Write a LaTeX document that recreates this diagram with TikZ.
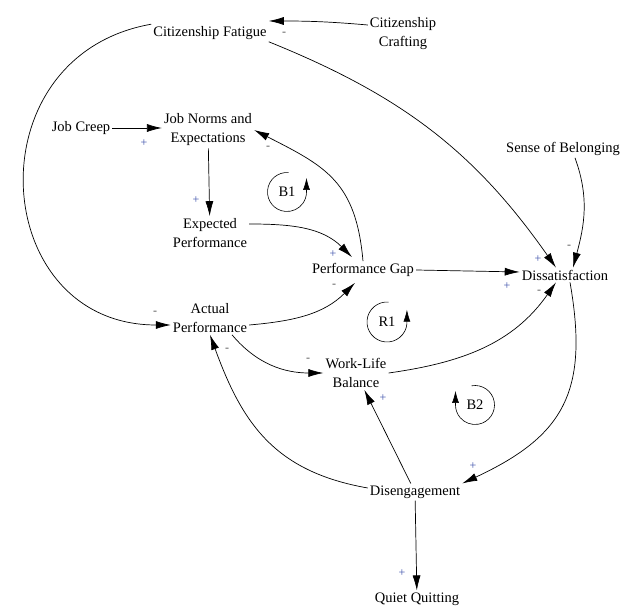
\documentclass[tikz,border=0pt]{standalone}
\usepackage{fontspec}
\setmainfont{Liberation Serif}
\usetikzlibrary{arrows.meta, positioning}
\definecolor{plusblue}{RGB}{60,80,170}
\definecolor{minusgray}{RGB}{90,90,90}

\begin{document}
\begin{tikzpicture}[x=1pt, y=1pt,
	every node/.style={font=\fontsize{14.5}{19}\selectfont},
	var/.style={align=center, inner sep=2pt},
	arr/.style={-{Latex[length=15pt, width=8pt]}, line width=0.7pt},
	loopsym/.style={-{Latex[length=12pt, width=7pt]}, line width=0.6pt},
	psign/.style={text=plusblue, font=\fontsize{12}{12}\selectfont, inner sep=0pt},
	nsign/.style={text=minusgray, font=\fontsize{12}{12}\selectfont, inner sep=0pt}
	]

\useasboundingbox (0,0) rectangle (622,608);

\node[var] (fatigue) at (210,575) {Citizenship Fatigue};
\node[var] (crafting) at (403,574) {Citizenship\\Crafting};
\node[var] (creep) at (81,480) {Job Creep};
\node[var] (norms) at (208,478) {Job Norms and\\Expectations};
\node[var] (expected) at (210,375) {Expected\\Performance};
\node[var] (gap) at (363,338) {Performance Gap};
\node[var] (belonging) at (563,459) {Sense of Belonging};
\node[var] (dissat) at (565,333) {Dissatisfaction};
\node[var] (actual) at (210,290) {Actual\\Performance};
\node[var] (wlb) at (356,235) {Work-Life\\Balance};
\node[var] (diseng) at (415,116) {Disengagement};
\node[var] (quiet) at (417,9) {Quiet Quitting};

\path[arr]
([yshift=9pt]crafting.west) edge[out=175, in=0] ([yshift=12pt]fatigue.east)
(fatigue.north west) edge[out=190, in=180, looseness=1.55] ([yshift=-7pt]actual.west)
(fatigue.south east) edge[out=-22, in=125] ([xshift=-9pt]dissat.north)
(creep.east) edge (creep.east -| norms.west)
(norms) edge (expected)
(gap.north) edge[out=95, in=-27, looseness=1.2] (norms.east)
([yshift=9pt]expected.east) edge[out=0, in=135] ([xshift=-11pt, yshift=4pt]gap.north)
([yshift=-7pt]actual.east) edge[out=5, in=-135] ([xshift=-8pt, yshift=-4pt]gap.south)
(gap.east) edge ([yshift=3pt]dissat.west)
([xshift=12pt]belonging.south) edge[out=-70, in=75] ([xshift=8pt]dissat.north)
([xshift=5pt]dissat.south) edge[out=-80, in=25, looseness=1.25] (diseng.north east)
(wlb.east) edge[out=8, in=-125] ([xshift=-9pt]dissat.south)
([xshift=22pt]actual.south) edge[out=-50, in=180] (wlb.west)
(diseng) edge (wlb)
([yshift=4pt]diseng.west) edge[out=170, in=-70, looseness=1.1] (actual.south)
(diseng) edge (quiet);

% loop markers
\node (b1) at (287,416) {B1};
\node (r1) at (387,286) {R1};
\node (b2) at (475,203) {B2};
\draw[loopsym] ([shift={(85:19.5)}]b1.center) arc[start angle=85, end angle=360, radius=19.5] -- ++(0,14);
\draw[loopsym] ([shift={(85:20)}]r1.center) arc[start angle=85, end angle=355, radius=20] -- ++(0,14);
\draw[loopsym] ([shift={(100:19.5)}]b2.center) arc[start angle=100, end angle=-180, radius=19.5] -- ++(0,14);

% polarities
\node[nsign] (s1) at (284,574) {-};
\node[psign] (s2) at (144,465) {+};
\node[nsign] (s3) at (268,460) {-};
\node[psign] (s4) at (196,408) {+};
\node[psign] (s5) at (333,354) {+};
\node[nsign] (s6) at (334,322) {-};
\node[psign] (s7) at (538,349) {+};
\node[nsign] (s8) at (569,361) {-};
\node[psign] (s9) at (507,322) {+};
\node[nsign] (s10) at (539,316) {-};
\node[nsign] (s11) at (155,295) {-};
\node[nsign] (s12) at (227,258) {-};
\node[nsign] (s13) at (308,248) {-};
\node[psign] (s14) at (383,210) {+};
\node[psign] (s15) at (473,142) {+};
\node[psign] (s16) at (402,35) {+};

\end{tikzpicture}
\end{document}
